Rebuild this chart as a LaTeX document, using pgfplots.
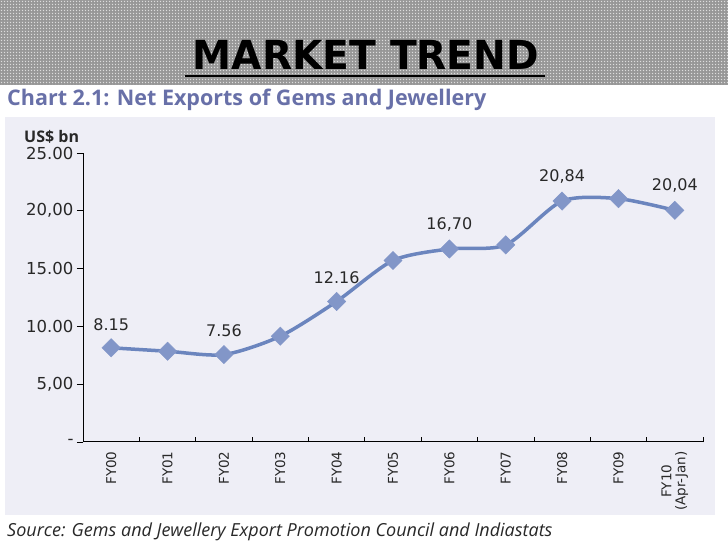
\documentclass[border=0pt]{standalone}
\usepackage{pgfplots}
\pgfplotsset{compat=1.18}
\usepackage{fontspec}
\setmainfont{Open Sans}
\newfontfamily\numfont{DejaVu Sans}
\newfontfamily\headfont{DejaVu Sans}
\usetikzlibrary{patterns}
\definecolor{panel}{RGB}{238,238,246}
\definecolor{linec}{RGB}{107,133,190}
\definecolor{markc}{RGB}{130,150,200}
\definecolor{titlec}{RGB}{104,112,168}
\definecolor{txt}{RGB}{40,40,40}
\begin{document}
\begin{tikzpicture}[x=1pt,y=1pt]
\fill[white] (0,0) rectangle (728,546);
\fill[gray!78] (0,461) rectangle (728,546);
\fill[pattern=crosshatch dots, pattern color=white!85!gray] (0,461) rectangle (728,546);
\fill[pattern=dots, pattern color=black!75] (0,461) rectangle (728,546);
\node[font=\headfont\bfseries\fontsize{40}{44}\selectfont, inner sep=0pt] at (366,491) {\scalebox{0.98}[1]{MARKET TREND}};
\draw[line width=2.5pt] (185,470) -- (545,470);
\node[anchor=west, text=titlec, font=\bfseries\fontsize{21.5}{24}\selectfont, inner sep=0pt] at (7,446) {Chart 2.1: Net Exports of Gems and Jewellery};
\fill[panel] (5,31) rectangle (715,429);
\begin{axis}[
  at={(83pt,104pt)}, anchor=south west, scale only axis,
  width=620pt, height=289pt,
  xmin=-0.5, xmax=10.5, ymin=0, ymax=25,
  axis lines=left, axis line style={-, black, line width=1pt},
  ytick={0,5,10,15,20,25},
  yticklabels={{-},{5,00},{10.00},{15.00},{20,00},{25.00}},
  yticklabel style={font=\numfont\fontsize{16.5}{18}\selectfont, text=txt},
  tick align=outside, major tick length=6pt,
  xtick={0,...,10},
  xticklabels={FY00,FY01,FY02,FY03,FY04,FY05,FY06,FY07,FY08,FY09,{FY10\\(Apr-Jan)}},
  x tick label style={rotate=90, anchor=east, align=center, font=\numfont\fontsize{13.5}{14}\selectfont, text=txt},
  major x tick style={draw=none},
  minor xtick={-0.5,0.5,...,10.5},
  minor tick length=5pt,
  minor x tick style={black, line width=0.8pt, yshift=5pt},
  tick style={black, line width=0.8pt},
  clip=false,
]
\addplot[linec, line width=3.5pt, smooth, tension=0.45, mark=square*, mark size=6.5pt,
  mark options={rotate=45, fill=markc, draw=markc, line width=0.4pt, solid}]
  coordinates {(0,8.15) (1,7.85) (2,7.56) (3,9.15) (4,12.16) (5,15.7) (6,16.70) (7,17.05) (8,20.84) (9,21.05) (10,20.04)};
\addplot[draw=none, mark=none, nodes near coords, point meta=explicit symbolic,
  nodes near coords style={font=\numfont\fontsize{16}{18}\selectfont, text=txt, anchor=south, yshift=14pt}]
  coordinates {(0,8.15) [8.15] (2,7.56) [7.56] (4,12.16) [12.16] (6,16.70) [{16,70}] (8,20.84) [{20,84}] (10,20.04) [{20,04}]};
\end{axis}
\node[anchor=west, font=\bfseries\fontsize{16}{18}\selectfont, text=txt, inner sep=0pt] at (24,409) {US\$ bn};
\node[anchor=west, font=\itshape\fontsize{18}{20}\selectfont, text=txt, inner sep=0pt] at (7,14) {Source: Gems and Jewellery Export Promotion Council and Indiastats};
\end{tikzpicture}
\end{document}
